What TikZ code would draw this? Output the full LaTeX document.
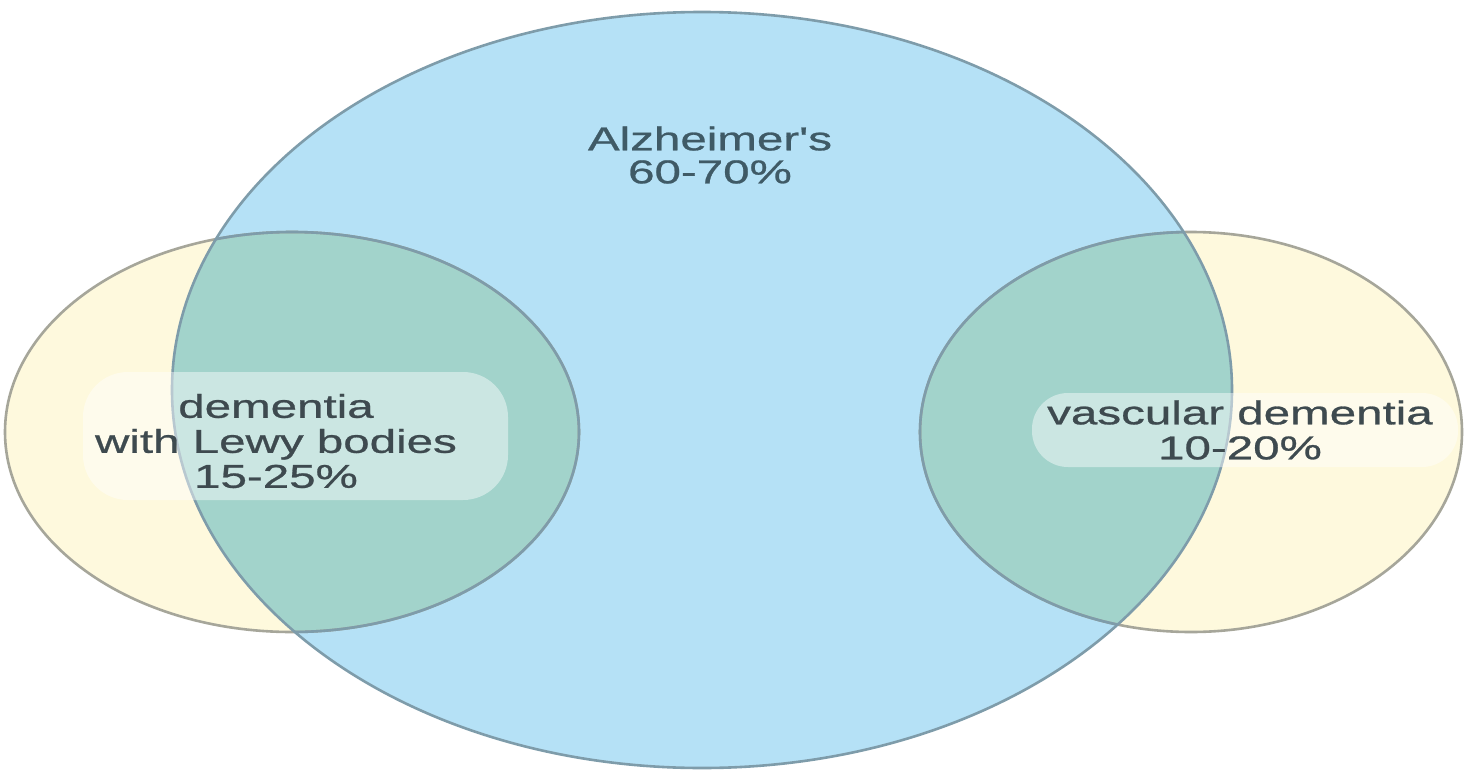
\documentclass[tikz,border=0pt]{standalone}
\usepackage{fontspec}
\newfontfamily\labfont[FakeStretch=1.44,FakeBold=0.8]{Liberation Sans}
\definecolor{alzfill}{HTML}{B5E1F6}
\definecolor{alzline}{HTML}{7E9CAA}
\definecolor{sidefill}{HTML}{FEF9DD}
\definecolor{sideline}{HTML}{A6A69A}
\definecolor{mixfill}{HTML}{A2D3CB}
\definecolor{txt}{HTML}{3E4A4F}
\definecolor{alztxt}{HTML}{3F5A66}
\begin{document}
\begin{tikzpicture}[x=1pt,y=-1pt,
  lbl/.style={inner sep=0pt, align=center, text=txt, font=\labfont\fontsize{33}{35}\selectfont},
  bandbox/.style={fill=white, fill opacity=0.45}]
\useasboundingbox (0,0) rectangle (1465,771);
\fill[white] (0,0) rectangle (1465,771);
% fills
\fill[alzfill] (702,390) ellipse [x radius=530, y radius=378];
\fill[sidefill] (292,432) ellipse [x radius=287, y radius=200];
\fill[sidefill] (1191,432) ellipse [x radius=271, y radius=200];
\begin{scope}
  \clip (702,390) ellipse [x radius=530, y radius=378];
  \fill[mixfill] (292,432) ellipse [x radius=287, y radius=200];
  \fill[mixfill] (1191,432) ellipse [x radius=271, y radius=200];
\end{scope}
% outlines
\draw[sideline, line width=2.6pt] (292,432) ellipse [x radius=287, y radius=200];
\draw[sideline, line width=2.6pt] (1191,432) ellipse [x radius=271, y radius=200];
\begin{scope}
  \clip (702,390) ellipse [x radius=530, y radius=378];
  \draw[alzline, line width=2.6pt] (292,432) ellipse [x radius=287, y radius=200];
  \draw[alzline, line width=2.6pt] (1191,432) ellipse [x radius=271, y radius=200];
\end{scope}
\draw[alzline, line width=2.6pt] (702,390) ellipse [x radius=530, y radius=378];
% label bands
\fill[bandbox, rounded corners=45pt] (83,372) rectangle (508,500);
\fill[bandbox, rounded corners=36pt] (1032,393) rectangle (1458,467);
% labels
\node[lbl, text=alztxt, font=\labfont\fontsize{33}{33}\selectfont] (alz) at (710,155) {Alzheimer's\\60-70\%};
\node[lbl] (dlb) at (276,441) {dementia\\with Lewy bodies\\15-25\%};
\node[lbl] (vd) at (1240,430) {vascular dementia\\10-20\%};
\end{tikzpicture}
\end{document}
